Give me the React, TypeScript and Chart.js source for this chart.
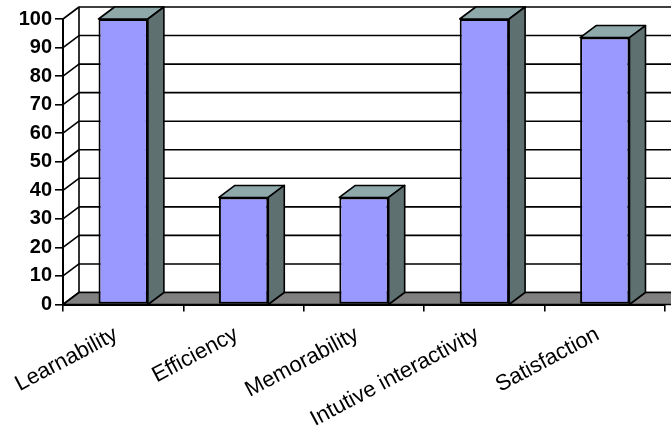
import React, { useEffect, useRef } from "react";
import { Chart, registerables } from "chart.js";

Chart.register(...registerables);

const categories = ["Learnability", "Efficiency", "Memorability", "Intutive interactivity", "Satisfaction"];
const scores = [100, 37.5, 37.5, 100, 93.5];
const yTicks = [0, 10, 20, 30, 40, 50, 60, 70, 80, 90, 100];

const DEPTH_X = 16;
const DEPTH_Y = -12;
const INK = "#000000";

function polygon(ctx: CanvasRenderingContext2D, pts: number[][], fill: string | null) {
  ctx.beginPath();
  pts.forEach(([x, y], i) => (i ? ctx.lineTo(x, y) : ctx.moveTo(x, y)));
  ctx.closePath();
  if (fill) {
    ctx.fillStyle = fill;
    ctx.fill();
  }
  ctx.stroke();
}

// Oblique walls, floor and the top and side faces of each column.
const extrusion = {
  id: "extrusion",
  beforeDatasetsDraw(chart: any) {
    const { ctx, chartArea, scales } = chart;
    const yScale = scales.y;
    const left = chartArea.left;
    const right = chart.width + 30;
    const base = yScale.getPixelForValue(0);
    ctx.save();
    ctx.strokeStyle = INK;
    ctx.lineWidth = 1.6;
    ctx.lineJoin = "round";

    yTicks.forEach((v) => {
      const y = yScale.getPixelForValue(v);
      ctx.beginPath();
      ctx.moveTo(left, y);
      ctx.lineTo(left + DEPTH_X, y + DEPTH_Y);
      ctx.lineTo(right, y + DEPTH_Y);
      ctx.stroke();
    });
    ctx.beginPath();
    ctx.moveTo(left + DEPTH_X, yScale.getPixelForValue(100) + DEPTH_Y);
    ctx.lineTo(left + DEPTH_X, base + DEPTH_Y);
    ctx.stroke();

    polygon(
      ctx,
      [
        [left, base],
        [left + DEPTH_X, base + DEPTH_Y],
        [right, base + DEPTH_Y],
        [right, base],
      ],
      "#808080"
    );

    chart.getDatasetMeta(0).data.forEach((bar: any) => {
      const half = bar.width / 2;
      const l = bar.x - half;
      const r = bar.x + half;
      polygon(
        ctx,
        [
          [l, bar.y],
          [l + DEPTH_X, bar.y + DEPTH_Y],
          [r + DEPTH_X, bar.y + DEPTH_Y],
          [r, bar.y],
        ],
        "#8FA8AA"
      );
      polygon(
        ctx,
        [
          [r, bar.y],
          [r + DEPTH_X, bar.y + DEPTH_Y],
          [r + DEPTH_X, base + DEPTH_Y],
          [r, base],
        ],
        "#5F7070"
      );
    });
    ctx.restore();
  },
};

export default function App() {
  const ref = useRef<HTMLCanvasElement>(null);

  useEffect(() => {
    document.body.style.margin = "0";
    const chart = new Chart(ref.current!, {
      type: "bar",
      data: {
        labels: categories,
        datasets: [
          {
            data: scores,
            backgroundColor: "#9999FF",
            borderColor: INK,
            borderWidth: 2,
            borderSkipped: false,
            barPercentage: 0.41,
            categoryPercentage: 1,
          },
        ],
      },
      plugins: [extrusion],
      options: {
        responsive: false,
        animation: false,
        layout: { padding: { top: 19, right: 6, left: 0, bottom: 0 } },
        plugins: { legend: { display: false }, tooltip: { enabled: false } },
        scales: {
          x: {
            afterFit: (s: any) => {
              s.height = 124.5;
            },
            border: { color: INK, width: 2 },
            grid: { drawOnChartArea: false, color: INK, tickLength: 7, lineWidth: 1.6 },
            ticks: {
              autoSkip: false,
              minRotation: 28,
              maxRotation: 28,
              labelOffset: -7,
              padding: 10,
              color: INK,
              font: { family: "'Liberation Sans'", size: 22 },
            },
          },
          y: {
            min: 0,
            max: 100,
            afterFit: (s: any) => {
              s.width = 63;
            },
            border: { color: INK, width: 2 },
            grid: { drawOnChartArea: false, color: INK, tickLength: 8, lineWidth: 1.6 },
            afterBuildTicks: (s: any) => {
              s.ticks = yTicks.map((value) => ({ value }));
            },
            ticks: {
              padding: 3,
              color: INK,
              font: { family: "'Liberation Sans'", size: 20, weight: "bold" },
            },
          },
        },
      },
    } as any);
    return () => chart.destroy();
  }, []);

  return <canvas ref={ref} width={671} height={429} style={{ display: "block" }} />;
}
